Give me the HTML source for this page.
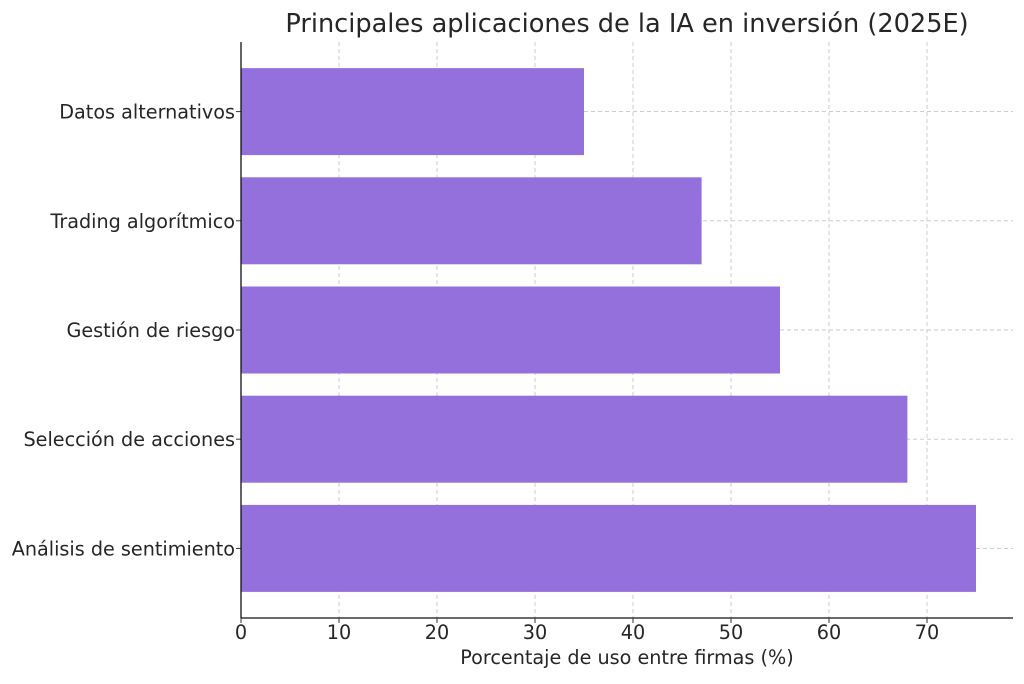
<!DOCTYPE html>
<html><head><meta charset="utf-8"><style>
body{margin:0;background:#fff;}
svg text{font-family:"DejaVu Sans","Liberation Sans",sans-serif;fill:#262626;}
</style></head><body>
<svg id="chart" width="1024" height="679"></svg>
<script>
const categories=["Datos alternativos","Trading algorítmico","Gestión de riesgo","Selección de acciones","Análisis de sentimiento"];
const values=[35,47,55,68,75];
const xTicks=[0,10,20,30,40,50,60,70];
const NS="http://www.w3.org/2000/svg";
const svg=document.getElementById('chart');
const x0=241,pxPer=9.8,xMax=1013,yTop=42,yBot=618;
const xs=v=>x0+v*pxPer;
const band=109.2,bandStart=57,barH=87;
const yc=i=>bandStart+band*i+band/2;
function mk(t,a,p){const e=document.createElementNS(NS,t);for(const k in a)e.setAttribute(k,a[k]);(p||svg).appendChild(e);return e;}
xTicks.forEach(t=>{
 const g=mk('line',{x1:xs(t),x2:xs(t),y1:yTop,y2:yBot,stroke:'#c8c8c8','stroke-dasharray':'4,3','stroke-width':0.9});
 
 
});
categories.forEach((c,i)=>{
 const g=mk('line',{x1:x0,x2:xMax,y1:yc(i),y2:yc(i),stroke:'#c8c8c8','stroke-dasharray':'4,3','stroke-width':0.9});
 
 
});
categories.forEach((c,i)=>{
 const r=mk('rect',{x:x0,y:yc(i)-barH/2,width:xs(values[i])-x0,height:barH,fill:'#9370db'});
 
 
 const l=mk('text',{x:235,y:yc(i)+7,'text-anchor':'end','font-size':19.2});
 l.textContent=c;
 
 
 mk('line',{x1:x0-5,x2:x0,y1:yc(i),y2:yc(i),stroke:'#333'});
});
const ax=mk('line',{x1:x0,x2:x0,y1:yTop,y2:yBot,stroke:'#111','stroke-width':1.3});


const bx=mk('line',{x1:x0,x2:xMax,y1:yBot,y2:yBot,stroke:'#111','stroke-width':1.3});


xTicks.forEach(t=>{
 mk('line',{x1:xs(t),x2:xs(t),y1:yBot,y2:yBot+5,stroke:'#333'});
 const l=mk('text',{x:xs(t),y:639,'text-anchor':'middle','font-size':19.2});
 l.textContent=t;
 
 
});
const xt=mk('text',{x:627,y:664,'text-anchor':'middle','font-size':19.2});
xt.textContent='Porcentaje de uso entre firmas (%)';


const tt=mk('text',{x:627,y:32,'text-anchor':'middle','font-size':25.6});
tt.textContent='Principales aplicaciones de la IA en inversión (2025E)';


</script>
</body></html>
